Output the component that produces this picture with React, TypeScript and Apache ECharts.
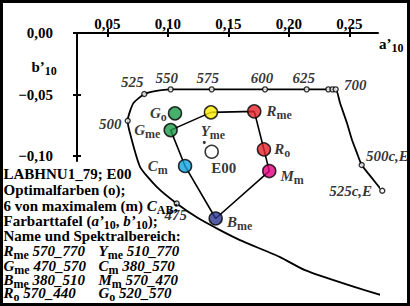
import React, { useEffect, useRef } from 'react';
import * as echarts from 'echarts';

const SERIF = '"Liberation Serif", "Times New Roman", Times, serif';

// axis ticks / labels
const xTickValues = [0.05, 0.1, 0.15, 0.2, 0.25];
const yTickValues = [0, -0.05, -0.1];

// boundary curve (a'10, b'10)
const curveA = [0.3019, 0.2548, 0.2134, 0.1928, 0.1597, 0.1432, 0.1250, 0.1074, 0.0909, 0.0771, 0.0688, 0.0669, 0.0715, 0.0806, 0.0895, 0.1024, 0.1363, 0.1804, 0.2148, 0.2327, 0.2388, 0.2424, 0.2481, 0.2523, 0.2564, 0.2603, 0.2688, 0.2773, 0.2878, 0.3019];
const curveB = [-0.2205, -0.2065, -0.1927, -0.1821, -0.1683, -0.1602, -0.1504, -0.1385, -0.1250, -0.1087, -0.0815, -0.0713, -0.0572, -0.0496, -0.0472, -0.0458, -0.0458, -0.0458, -0.0458, -0.0458, -0.0458, -0.0569, -0.0732, -0.0870, -0.0976, -0.1073, -0.1179, -0.1282, -0.1382, -0.1488];

// marked wavelengths on the curve
const markLabels = ['475', '500', '525', '550', '575', '600', '625', '', '', '700', '500c,E', '525c,E'];
const markA = [0.1074, 0.0669, 0.0806, 0.1024, 0.1363, 0.1804, 0.2148, 0.2327, 0.2362, 0.2388, 0.2603, 0.2773];
const markB = [-0.1385, -0.0713, -0.0496, -0.0458, -0.0458, -0.0458, -0.0458, -0.0458, -0.0458, -0.0458, -0.1073, -0.1282];

// optimal colours
const sampleMain = ['R', 'R', 'M', 'B', 'C', 'G', 'Y', 'G'];
const sampleSub = ['me', 'o', 'm', 'me', 'm', 'me', 'me', 'o'];
const sampleA = [0.1715, 0.1795, 0.1839, 0.1396, 0.1143, 0.1024, 0.1357, 0.1060];
const sampleB = [-0.0637, -0.0946, -0.1122, -0.1507, -0.1081, -0.0789, -0.0645, -0.0653];
const hexOrder = [0, 1, 2, 3, 4, 5, 6, 0];

// white point and small dot
const e00A = [0.1363];
const e00B = [-0.0965];
const dotA = [0.1302];
const dotB = [-0.0889];

// legend text
const legendMain = ['R', 'Y', 'G', 'C', 'B', 'M', 'R', 'G'];
const legendSub = ['me', 'me', 'me', 'm', 'me', 'm', 'o', 'o'];
const legendRanges = ['570_770', '510_770', '470_570', '380_570', '380_510', '570_470', '570_440', '520_570'];

// styles (not data)
const sampleColors = ['#e3232b', '#e3232b', '#e2007f', '#2b3590', '#12a2df', '#1c9b48', '#ffec00', '#1c9b48'];
const sampleLabelPos: any[] = [
  { position: 'right', distance: 5, offset: [0, 0] },
  { position: 'right', distance: 3, offset: [0, 0] },
  { position: 'right', distance: 4, offset: [0, 5] },
  { position: 'right', distance: 4, offset: [0, 4] },
  { position: 'left', distance: 10, offset: [0, 0] },
  { position: 'left', distance: 3, offset: [0, 0] },
  { position: 'bottom', distance: 5, offset: [2, 0] },
  { position: 'left', distance: 1, offset: [0, 0] },
];
const markLabelPos: any[] = [
  { position: 'bottom', distance: 1, offset: [-1, 0] },
  { position: 'left', distance: 3, offset: [0, 3] },
  { position: 'top', distance: 1, offset: [-12, 0] },
  { position: 'top', distance: 1, offset: [-4, 0] },
  { position: 'top', distance: 1, offset: [-4, 0] },
  { position: 'top', distance: 1, offset: [-3, 0] },
  { position: 'top', distance: 1, offset: [-3, 0] },
  { position: 'top', distance: 1, offset: [0, 0] },
  { position: 'top', distance: 1, offset: [0, 0] },
  { position: 'right', distance: 5, offset: [0, -4] },
  { position: 'right', distance: 1, offset: [0, -9] },
  { position: 'left', distance: 7, offset: [0, 0] },
];

const X_MIN = 0.025;
const X_MAX = 0.27376;
const Y_MIN = -0.104;
const Y_MAX = 0;

export default function App() {
  const ref = useRef<HTMLDivElement>(null);
  useEffect(() => {
    const chart = echarts.init(ref.current!, null, { renderer: 'svg' });
    const bold = { fontFamily: SERIF, fontWeight: 'bold' as const, fontSize: 15, color: '#000' };
    const rich: any = {
      b: { ...bold, lineHeight: 13 },
      i: { ...bold, fontStyle: 'italic', lineHeight: 13 },
      s: { fontFamily: SERIF, fontWeight: 'bold', fontSize: 12, color: '#000', padding: [8, 0, 0, 0], lineHeight: 13 },
    };
    const gRich: any = {
      b: { fontFamily: SERIF, fontWeight: 'bold', fontSize: 15, fill: '#000', lineHeight: 13 },
      i: { fontFamily: SERIF, fontWeight: 'bold', fontStyle: 'italic', fontSize: 15, fill: '#000', lineHeight: 13 },
      s: { fontFamily: SERIF, fontWeight: 'bold', fontSize: 12, fill: '#000', padding: [8, 0, 0, 0], lineHeight: 13 },
    };
    const fmtX = (v: number) => v.toFixed(2).replace('.', ',');
    const fmtY = (v: number) => (v < 0 ? '\u2212' : '') + Math.abs(v).toFixed(2).replace('.', ',');

    const tickStyle = { color: '#000', width: 2 };

    const textLines: { x: number; y: number; t: string }[] = [
      { x: 3.5, y: 174, t: '{b|LABHNU1_79; E00}' },
      { x: 3.5, y: 190, t: '{b|Optimalfarben (o);}' },
      { x: 3.5, y: 206, t: '{b|6 von maximalem (m) }{i|C}{s|AB}{b|;}' },
      { x: 3.5, y: 221, t: '{b|Farbarttafel (}{i|a\u2019}{s|10}{b|, }{i|b\u2019}{s|10}{b|);}' },
      { x: 3.5, y: 236, t: '{b|Name und Spektralbereich:}' },
    ];
    const rowY = [251, 265.5, 279.5, 293];
    for (let r = 0; r < 4; r++) {
      for (let c = 0; c < 2; c++) {
        const k = r * 2 + c;
        textLines.push({
          x: c === 0 ? 3.5 : 98.5,
          y: rowY[r],
          t: `{i|${legendMain[k]}}{s|${legendSub[k]}}{i| ${legendRanges[k]}}`,
        });
      }
    }

    const option: any = {
      animation: false,
      backgroundColor: '#fff',
      grid: { left: 77, top: 33, width: 301, height: 128, outerBoundsMode: 'none', containLabel: false },
      xAxis: [
        {
          type: 'value', position: 'top', min: X_MIN, max: X_MAX,
          splitLine: { show: false },
          axisLine: { show: true, onZero: false, lineStyle: { color: '#000', width: 2 } },
          axisTick: { show: true, customValues: xTickValues, length: 4, lineStyle: tickStyle },
          axisLabel: { show: true, customValues: xTickValues, formatter: fmtX, margin: 2, ...bold },
        },
        {
          type: 'value', position: 'top', min: X_MIN, max: X_MAX,
          splitLine: { show: false },
          axisLine: { show: false, onZero: false },
          axisTick: { show: true, inside: true, customValues: xTickValues, length: 4, lineStyle: tickStyle },
          axisLabel: { show: false },
        },
      ],
      yAxis: [
        {
          type: 'value', position: 'left', min: Y_MIN, max: Y_MAX,
          splitLine: { show: false },
          axisLine: { show: true, onZero: false, lineStyle: { color: '#000', width: 2 } },
          axisTick: { show: true, customValues: yTickValues, length: 4, lineStyle: tickStyle },
          axisLabel: { show: true, customValues: yTickValues, formatter: fmtY, margin: 24, padding: [6, 0, 0, 0], ...bold },
        },
        {
          type: 'value', position: 'left', min: Y_MIN, max: Y_MAX,
          splitLine: { show: false },
          axisLine: { show: false, onZero: false },
          axisTick: { show: true, inside: true, customValues: yTickValues, length: 4, lineStyle: tickStyle },
          axisLabel: { show: false },
        },
      ],
      series: [
        {
          type: 'line', clip: false, symbol: 'none', smooth: 0.2,
          data: curveA.map((a, i) => [a, curveB[i]]),
          lineStyle: { color: '#000', width: 1.8 },
          z: 2,
        },
        {
          type: 'line', clip: false, symbol: 'none',
          data: hexOrder.map((k) => [sampleA[k], sampleB[k]]),
          lineStyle: { color: '#000', width: 1.6 },
          z: 3,
        },
        {
          type: 'scatter', clip: false, symbolSize: 5,
          itemStyle: { color: '#fff', borderColor: '#000', borderWidth: 1.4 },
          data: markA.map((a, i) => ({
            value: [a, markB[i]],
            label: {
              show: markLabels[i] !== '',
              formatter: markLabels[i],
              ...markLabelPos[i],
              fontFamily: SERIF, fontWeight: 'bold', fontStyle: 'italic', fontSize: 15, color: '#000',
            },
          })),
          z: 4,
        },
        {
          type: 'scatter', clip: false, symbolSize: 3,
          itemStyle: { color: '#000' },
          data: dotA.map((a, i) => [a, dotB[i]]),
          z: 4,
        },
        {
          type: 'scatter', clip: false, symbolSize: 13,
          itemStyle: { color: '#fff', borderColor: '#000', borderWidth: 1.5 },
          data: e00A.map((a, i) => ({
            value: [a, e00B[i]],
            label: { show: true, formatter: 'E00', position: 'bottom', distance: 1, offset: [12, 0], ...bold },
          })),
          z: 5,
        },
        {
          type: 'scatter', clip: false, symbolSize: 13,
          data: sampleA.map((a, i) => ({
            value: [a, sampleB[i]],
            itemStyle: { color: sampleColors[i], borderColor: '#000', borderWidth: 1.5 },
            label: {
              show: true,
              formatter: `{i|${sampleMain[i]}}{s|${sampleSub[i]}}`,
              rich,
              ...sampleLabelPos[i],
            },
          })),
          z: 5,
        },
      ],
      graphic: [
        {
          type: 'text', x: 31.5, y: 66.5, z: 50,
          style: { text: '{b|b\u2019}{s|10}', rich: gRich, verticalAlign: 'middle', align: 'left' },
        },
        {
          type: 'text', x: 379, y: 43.5, z: 50,
          style: { text: '{b|a\u2019}{s|10}', rich: gRich, verticalAlign: 'middle', align: 'left' },
        },
        ...textLines.map((l) => ({
          type: 'text', x: l.x, y: l.y, z: 50,
          style: { text: l.t, rich: gRich, verticalAlign: 'middle', align: 'left' },
        })),
        {
          type: 'rect', z: 100,
          shape: { x: 1.5, y: 1.5, width: 407, height: 303 },
          style: { fill: 'none', stroke: '#000', lineWidth: 3 },
        },
      ],
    };
    chart.setOption(option);
    return () => chart.dispose();
  }, []);
  return (
    <div
      ref={ref}
      style={{ position: 'absolute', left: 0, top: 0, width: 410, height: 306, background: '#fff' }}
    />
  );
}
